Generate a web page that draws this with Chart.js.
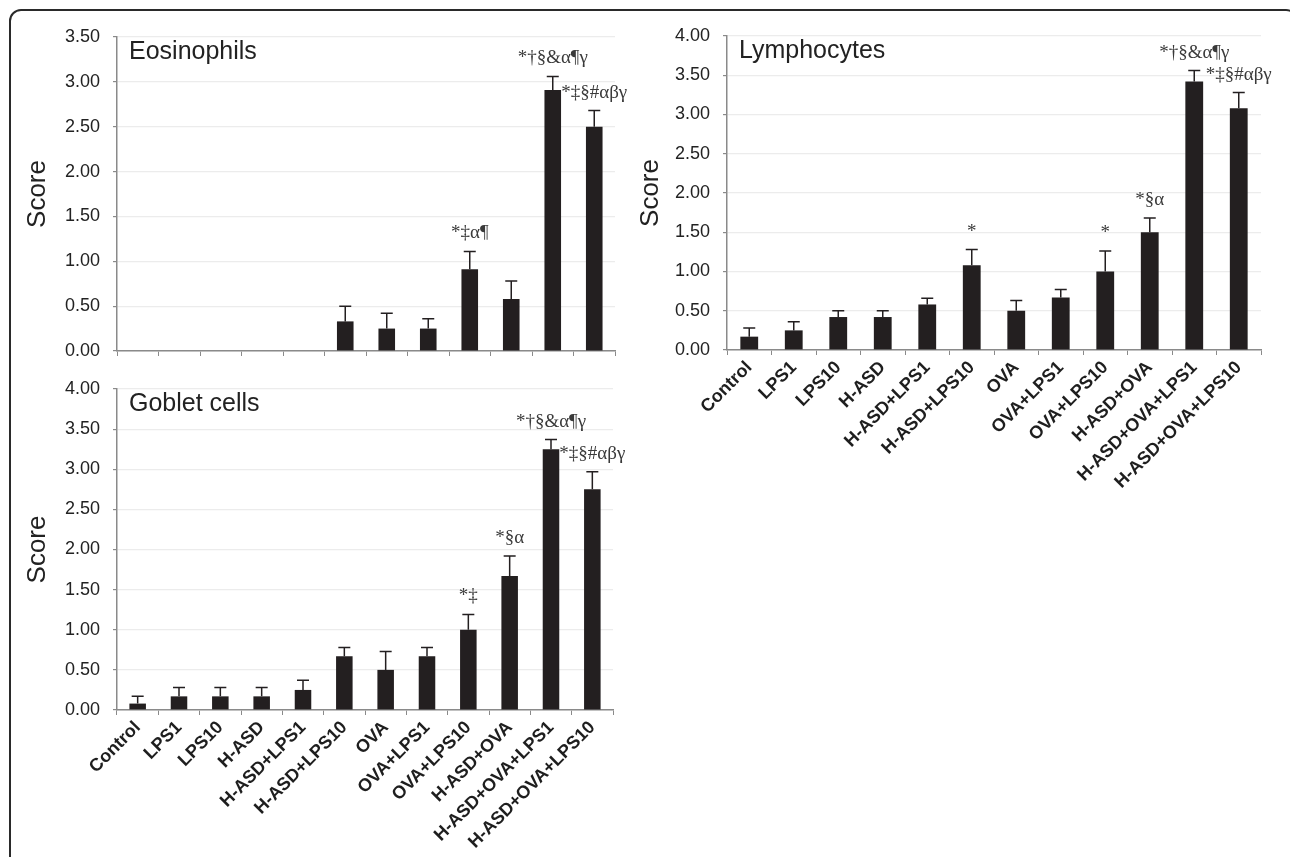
<!DOCTYPE html>
<html>
<head>
<meta charset="utf-8">
<script src="https://cdn.jsdelivr.net/npm/chart.js@4"></script>
<style>
  html, body { margin: 0; padding: 0; background: #fff; overflow: hidden; }
  body { width: 1290px; height: 857px; position: relative; }
  #frame {
    position: absolute; left: 9px; top: 9px; width: 1285px; height: 1000px;
    border: 2px solid #2a2a2a; border-radius: 12px;
  }
  canvas { position: absolute; }
</style>
</head>
<body>
<div id="frame"></div>
<canvas id="eos" width="640" height="380" style="left:0px;top:0px;"></canvas>
<canvas id="gob" width="640" height="560" style="left:0px;top:360px;"></canvas>
<canvas id="lym" width="670" height="600" style="left:620px;top:0px;"></canvas>
<script>
let groups = ['Control', 'LPS1', 'LPS10', 'H-ASD', 'H-ASD+LPS1', 'H-ASD+LPS10',
  'OVA', 'OVA+LPS1', 'OVA+LPS10', 'H-ASD+OVA', 'H-ASD+OVA+LPS1', 'H-ASD+OVA+LPS10'];

// eosinophils
let eosMean  = [0, 0, 0, 0, 0, 0.33, 0.25, 0.25, 0.91, 0.58, 2.91, 2.50];
let eosErr   = [0, 0, 0, 0, 0, 0.17, 0.17, 0.11, 0.20, 0.20, 0.15, 0.18];
let eosMarks = ['', '', '', '', '', '', '', '', '*‡α¶', '', '*†§&α¶γ', '*‡§#αβγ'];

// lymphocytes
let lymMean  = [0.17, 0.25, 0.42, 0.42, 0.58, 1.08, 0.50, 0.67, 1.00, 1.50, 3.42, 3.08];
let lymErr   = [0.11, 0.11, 0.08, 0.08, 0.08, 0.20, 0.13, 0.10, 0.26, 0.18, 0.14, 0.20];
let lymMarks = ['', '', '', '', '', '*', '', '', '*', '*§α', '*†§&α¶γ', '*‡§#αβγ'];

// goblet cells
let gobMean  = [0.08, 0.17, 0.17, 0.17, 0.25, 0.67, 0.50, 0.67, 1.00, 1.67, 3.25, 2.75];
let gobErr   = [0.09, 0.11, 0.11, 0.11, 0.12, 0.11, 0.23, 0.11, 0.19, 0.25, 0.12, 0.22];
let gobMarks = ['', '', '', '', '', '', '', '', '*‡', '*§α', '*†§&α¶γ', '*‡§#αβγ'];

let sans = "'Liberation Sans', Arial, Helvetica, sans-serif";
let barColor = '#231f20';

// whiskers (up only), significance marks and the panel name
let extras = {
  id: 'extras',
  afterDatasetsDraw(chart, args, opts) {
    let ctx = chart.ctx;
    let yScale = chart.scales.y;
    let meta = chart.getDatasetMeta(0);
    ctx.save();
    ctx.strokeStyle = barColor;
    ctx.lineWidth = 1.5;
    for (let i = 0; i < meta.data.length; i++) {
      let bar = meta.data[i];
      let mean = opts.mean[i];
      let top = yScale.getPixelForValue(mean + opts.err[i]);
      if (opts.err[i] > 0) {
        ctx.beginPath();
        ctx.moveTo(bar.x, bar.y);
        ctx.lineTo(bar.x, top);
        ctx.moveTo(bar.x - 6, top);
        ctx.lineTo(bar.x + 6, top);
        ctx.stroke();
      }
      if (opts.marks[i]) {
        ctx.fillStyle = '#3a3a3a';
        ctx.font = "19px 'Liberation Serif', 'Times New Roman', serif";
        ctx.textAlign = 'center';
        ctx.textBaseline = 'middle';
        ctx.fillText(opts.marks[i], bar.x, top - 18);
      }
    }
    let area = chart.chartArea;
    ctx.fillStyle = '#222';
    ctx.font = '25px ' + sans;
    ctx.textAlign = 'left';
    ctx.textBaseline = 'alphabetic';
    ctx.fillText(opts.name, area.left + 12, area.top + 22);
    ctx.restore();
  }
};

function makePanel(id, name, mean, err, marks, yMax, yWidth, xHeight, pad, titlePad, showLabels) {
  let options = {
    type: 'bar',
    data: {
      labels: groups,
      datasets: [{
        data: mean,
        backgroundColor: barColor,
        borderWidth: 0,
        barPercentage: 0.4,
        categoryPercentage: 1.0
      }]
    },
    options: {
      responsive: false,
      animation: false,
      layout: { padding: pad },
      plugins: {
        legend: { display: false },
        tooltip: { enabled: false },
        extras: { name: name, mean: mean, err: err, marks: marks }
      },
      scales: {
        x: {
          offset: true,
          grid: {
            offset: true,
            drawOnChartArea: false,
            drawTicks: true,
            tickLength: 5,
            color: '#8a8a8a',
            tickColor: '#8a8a8a'
          },
          border: { display: true, color: '#8a8a8a', width: 1.5 },
          ticks: {
            display: showLabels,
            minRotation: 45,
            maxRotation: 45,
            autoSkip: false,
            color: '#1e1e1e',
            padding: 2,
            font: { family: sans, size: 18, weight: 'bold' }
          },
          afterFit: function(s) { s.height = xHeight; }
        },
        y: {
          min: 0,
          max: yMax,
          grid: {
            color: '#ececec',
            tickColor: '#8a8a8a',
            tickLength: 4,
            lineWidth: 1.2
          },
          border: { display: true, color: '#8a8a8a', width: 1.5 },
          ticks: {
            stepSize: 0.5,
            padding: 13,
            color: '#222',
            font: { family: sans, size: 18 },
            callback: function(v) { return v.toFixed(2); }
          },
          title: {
            display: true,
            text: 'Score',
            color: '#222',
            padding: { top: titlePad, bottom: 0 },
            font: { family: sans, size: 26 }
          },
          afterFit: function(s) { s.width = yWidth; }
        }
      }
    },
    plugins: [extras]
  };
  return new Chart(document.getElementById(id), options);
}

makePanel('eos', 'Eosinophils', eosMean, eosErr, eosMarks, 3.5, 117, 29,
  { top: 37, left: 0, right: 25, bottom: 0 }, 22, false);
makePanel('gob', 'Goblet cells', gobMean, gobErr, gobMarks, 4.0, 117, 210,
  { top: 29, left: 0, right: 27, bottom: 0 }, 22, true);
makePanel('lym', 'Lymphocytes', lymMean, lymErr, lymMarks, 4.0, 107, 250,
  { top: 36, left: 0, right: 29, bottom: 0 }, 15, true);
</script>
</body>
</html>
